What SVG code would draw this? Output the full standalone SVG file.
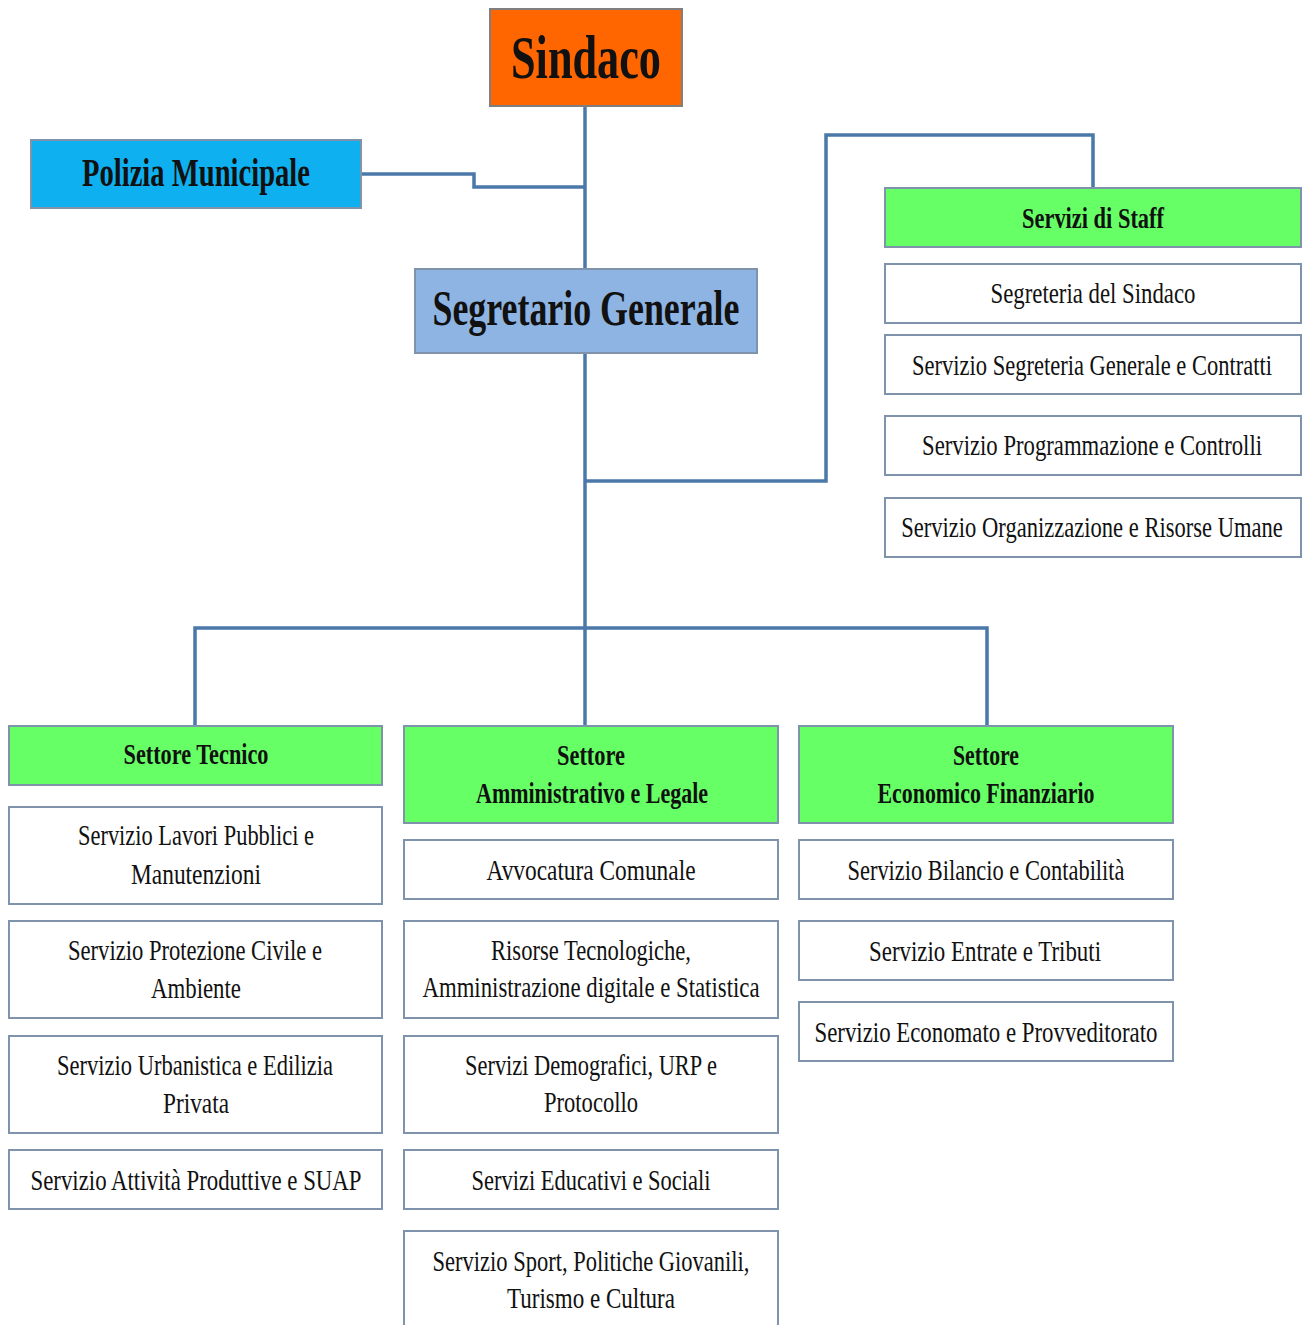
<svg xmlns="http://www.w3.org/2000/svg" width="1305" height="1325" viewBox="0 0 1305 1325">
<style>
.box{stroke:#7f93ad;stroke-width:2}
.w{fill:#ffffff}
.g{fill:#66ff66}
.t{font-family:"Liberation Serif","DejaVu Serif",serif;font-size:30px;fill:#111;text-anchor:middle}
.b{font-weight:bold}
.xl{font-size:62px}
.l{font-size:40px}
.m{font-size:50px}
.conn{fill:none;stroke:#4a78a8;stroke-width:3.5}
</style>
<rect width="1305" height="1325" fill="#ffffff"/>
<g id="connectors">
<polyline class="conn" points="361,174 474,174 474,187 585,187"/>
<line class="conn" x1="585" y1="106" x2="585" y2="270"/>
<line class="conn" x1="585" y1="353" x2="585" y2="726"/>
<polyline class="conn" points="585,481 826,481 826,135 1093,135 1093,188"/>
<polyline class="conn" points="195,726 195,628 987,628 987,726"/>
</g>
<g id="sindaco">
<rect x="490" y="9" width="192" height="97" fill="#ff6600" stroke="#7f7f7f" stroke-width="2"/>
<text class="t b xl" x="586" y="78" textLength="150" lengthAdjust="spacingAndGlyphs">Sindaco</text>
</g>
<g id="polizia">
<rect x="31" y="140" width="330" height="68" fill="#0fb0f0" stroke="#7f93ad" stroke-width="2"/>
<text class="t b l" x="196" y="186" textLength="228" lengthAdjust="spacingAndGlyphs">Polizia Municipale</text>
</g>
<g id="segretario">
<rect x="415" y="269" width="342" height="84" fill="#8eb4e3" stroke="#7f93ad" stroke-width="2"/>
<text class="t b m" x="586" y="325" textLength="307" lengthAdjust="spacingAndGlyphs">Segretario Generale</text>
</g>
<g id="staff">
<rect class="box g" x="885" y="188" width="416" height="59"/>
<text class="t b" x="1093" y="228" textLength="142" lengthAdjust="spacingAndGlyphs">Servizi di Staff</text>
</g>
<g id="staff-1">
<rect class="box w" x="885" y="264" width="416" height="59"/>
<text class="t" x="1093" y="303" textLength="205" lengthAdjust="spacingAndGlyphs">Segreteria del Sindaco</text>
</g>
<g id="staff-2">
<rect class="box w" x="885" y="335" width="416" height="59"/>
<text class="t" x="0" y="0" transform="translate(1092 375) scale(0.8 1)" textLength="450" lengthAdjust="spacingAndGlyphs">Servizio Segreteria Generale e Contratti</text>
</g>
<g id="staff-3">
<rect class="box w" x="885" y="416" width="416" height="59"/>
<text class="t" x="0" y="0" transform="translate(1092 455) scale(0.8 1)" textLength="425" lengthAdjust="spacingAndGlyphs">Servizio Programmazione e Controlli</text>
</g>
<g id="staff-4">
<rect class="box w" x="885" y="498" width="416" height="59"/>
<text class="t" x="0" y="0" transform="translate(1092 537) scale(0.8 1)" textLength="477" lengthAdjust="spacingAndGlyphs">Servizio Organizzazione e Risorse Umane</text>
</g>
<g id="tecnico">
<rect class="box g" x="9" y="726" width="373" height="59"/>
<text class="t b" x="196" y="764" textLength="145" lengthAdjust="spacingAndGlyphs">Settore Tecnico</text>
</g>
<g id="tecnico-1">
<rect class="box w" x="9" y="807" width="373" height="97"/>
<text class="t" x="196" y="845" textLength="236" lengthAdjust="spacingAndGlyphs">Servizio Lavori Pubblici e</text>
<text class="t" x="196" y="884" textLength="130" lengthAdjust="spacingAndGlyphs">Manutenzioni</text>
</g>
<g id="tecnico-2">
<rect class="box w" x="9" y="921" width="373" height="97"/>
<text class="t" x="195" y="960" textLength="254" lengthAdjust="spacingAndGlyphs">Servizio Protezione Civile e</text>
<text class="t" x="196" y="998" textLength="90" lengthAdjust="spacingAndGlyphs">Ambiente</text>
</g>
<g id="tecnico-3">
<rect class="box w" x="9" y="1036" width="373" height="97"/>
<text class="t" x="195" y="1075" textLength="276" lengthAdjust="spacingAndGlyphs">Servizio Urbanistica e Edilizia</text>
<text class="t" x="196" y="1113" textLength="66" lengthAdjust="spacingAndGlyphs">Privata</text>
</g>
<g id="tecnico-4">
<rect class="box w" x="9" y="1150" width="373" height="59"/>
<text class="t" x="196" y="1190" textLength="331" lengthAdjust="spacingAndGlyphs">Servizio Attività Produttive e SUAP</text>
</g>
<g id="amministrativo">
<rect class="box g" x="404" y="726" width="374" height="97"/>
<text class="t b" x="591" y="765" textLength="68" lengthAdjust="spacingAndGlyphs">Settore</text>
<text class="t b" x="592" y="803" textLength="232" lengthAdjust="spacingAndGlyphs">Amministrativo e Legale</text>
</g>
<g id="amm-1">
<rect class="box w" x="404" y="840" width="374" height="59"/>
<text class="t" x="591" y="880" textLength="209" lengthAdjust="spacingAndGlyphs">Avvocatura Comunale</text>
</g>
<g id="amm-2">
<rect class="box w" x="404" y="921" width="374" height="97"/>
<text class="t" x="591" y="960" textLength="200" lengthAdjust="spacingAndGlyphs">Risorse Tecnologiche,</text>
<text class="t" x="591" y="997" textLength="337" lengthAdjust="spacingAndGlyphs">Amministrazione digitale e Statistica</text>
</g>
<g id="amm-3">
<rect class="box w" x="404" y="1036" width="374" height="97"/>
<text class="t" x="591" y="1075" textLength="252" lengthAdjust="spacingAndGlyphs">Servizi Demografici, URP e</text>
<text class="t" x="591" y="1112" textLength="94" lengthAdjust="spacingAndGlyphs">Protocollo</text>
</g>
<g id="amm-4">
<rect class="box w" x="404" y="1150" width="374" height="59"/>
<text class="t" x="591" y="1190" textLength="239" lengthAdjust="spacingAndGlyphs">Servizi Educativi e Sociali</text>
</g>
<g id="amm-5">
<rect class="box w" x="404" y="1231" width="374" height="100"/>
<text class="t" x="591" y="1271" textLength="317" lengthAdjust="spacingAndGlyphs">Servizio Sport, Politiche Giovanili,</text>
<text class="t" x="591" y="1308" textLength="168" lengthAdjust="spacingAndGlyphs">Turismo e Cultura</text>
</g>
<g id="economico">
<rect class="box g" x="799" y="726" width="374" height="97"/>
<text class="t b" x="986" y="765" textLength="66" lengthAdjust="spacingAndGlyphs">Settore</text>
<text class="t b" x="986" y="803" textLength="217" lengthAdjust="spacingAndGlyphs">Economico Finanziario</text>
</g>
<g id="eco-1">
<rect class="box w" x="799" y="840" width="374" height="59"/>
<text class="t" x="986" y="880" textLength="277" lengthAdjust="spacingAndGlyphs">Servizio Bilancio e Contabilità</text>
</g>
<g id="eco-2">
<rect class="box w" x="799" y="921" width="374" height="59"/>
<text class="t" x="985" y="961" textLength="232" lengthAdjust="spacingAndGlyphs">Servizio Entrate e Tributi</text>
</g>
<g id="eco-3">
<rect class="box w" x="799" y="1002" width="374" height="59"/>
<text class="t" x="986" y="1042" textLength="343" lengthAdjust="spacingAndGlyphs">Servizio Economato e Provveditorato</text>
</g>
</svg>
